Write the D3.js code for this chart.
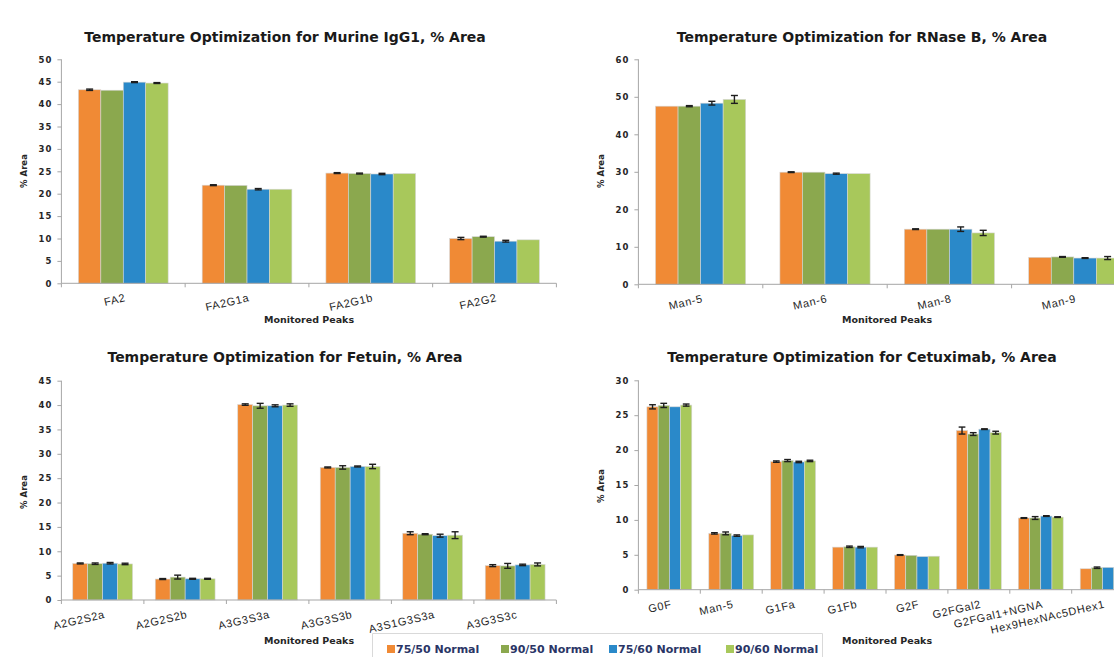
<!DOCTYPE html>
<html><head><meta charset="utf-8">
<script src="https://cdn.jsdelivr.net/npm/d3@7"></script>
<style>
html,body{margin:0;padding:0;background:#fff;overflow:hidden;}
svg{display:block;}
</style></head>
<body>
<svg id="chart" width="1114" height="657"></svg>
<script>
// ---------- DATA ----------
const seriesNames = ["75/50 Normal", "90/50 Normal", "75/60 Normal", "90/60 Normal"];
const seriesColors = ["#F08A35", "#8BA84E", "#2A89C9", "#A8C85B"];

const titles = [
  "Temperature Optimization for Murine IgG1, % Area",
  "Temperature Optimization for RNase B, % Area",
  "Temperature Optimization for Fetuin, % Area",
  "Temperature Optimization for Cetuximab, % Area"
];
const yAxisTitle = "% Area";
const xAxisTitle = "Monitored Peaks";

// Murine IgG1
const igg1Categories = ["FA2", "FA2G1a", "FA2G1b", "FA2G2"];
const igg1_7550 = [43.2, 21.9, 24.6, 10.0];
const igg1_9050 = [43.1, 21.85, 24.5, 10.4];
const igg1_7560 = [44.9, 21.0, 24.4, 9.4];
const igg1_9060 = [44.7, 21.0, 24.5, 9.7];
const igg1Err_7550 = [0.15, 0.1, 0.1, 0.25];
const igg1Err_9050 = [0, 0, 0.1, 0.1];
const igg1Err_7560 = [0.1, 0.15, 0.15, 0.2];
const igg1Err_9060 = [0.1, 0, 0, 0];
const igg1Ticks = [0, 5, 10, 15, 20, 25, 30, 35, 40, 45, 50];

// RNase B
const rnaseCategories = ["Man-5", "Man-6", "Man-8", "Man-9"];
const rnase_7550 = [47.5, 29.9, 14.7, 7.2];
const rnase_9050 = [47.5, 29.9, 14.7, 7.3];
const rnase_7560 = [48.3, 29.5, 14.7, 7.0];
const rnase_9060 = [49.3, 29.5, 13.7, 7.0];
const rnaseErr_7550 = [0, 0.1, 0.1, 0];
const rnaseErr_9050 = [0.15, 0, 0, 0.1];
const rnaseErr_7560 = [0.5, 0.15, 0.6, 0.1];
const rnaseErr_9060 = [1.05, 0, 0.7, 0.4];
const rnaseTicks = [0, 10, 20, 30, 40, 50, 60];

// Fetuin
const fetuinCategories = ["A2G2S2a", "A2G2S2b", "A3G3S3a", "A3G3S3b", "A3S1G3S3a", "A3G3S3c"];
const fetuin_7550 = [7.5, 4.3, 40.1, 27.2, 13.7, 7.05];
const fetuin_9050 = [7.45, 4.7, 39.85, 27.2, 13.5, 7.0];
const fetuin_7560 = [7.55, 4.35, 39.85, 27.4, 13.2, 7.2];
const fetuin_9060 = [7.4, 4.35, 40.0, 27.4, 13.3, 7.3];
const fetuinErr_7550 = [0.1, 0.1, 0.15, 0.1, 0.3, 0.2];
const fetuinErr_9050 = [0.15, 0.4, 0.5, 0.35, 0.1, 0.5];
const fetuinErr_7560 = [0.15, 0.1, 0.2, 0.1, 0.3, 0.15];
const fetuinErr_9060 = [0.15, 0.1, 0.25, 0.45, 0.7, 0.3];
const fetuinTicks = [0, 5, 10, 15, 20, 25, 30, 35, 40, 45];

// Cetuximab
const cetuxCategories = ["G0F", "Man-5", "G1Fa", "G1Fb", "G2F", "G2FGal2", "G2FGal1+NGNA", "Hex9HexNAc5DHex1"];
const cetux_7550 = [26.2, 8.07, 18.35, 6.1, 4.97, 22.8, 10.27, 3.0];
const cetux_9050 = [26.4, 8.07, 18.5, 6.15, 4.93, 22.3, 10.27, 3.15];
const cetux_7560 = [26.2, 7.75, 18.3, 6.1, 4.75, 23.0, 10.55, 3.2];
const cetux_9060 = [26.45, 7.85, 18.45, 6.1, 4.8, 22.5, 10.4, 3.1];
const cetuxErr_7550 = [0.3, 0.1, 0.1, 0, 0.05, 0.5, 0.05, 0];
const cetuxErr_9050 = [0.3, 0.2, 0.15, 0.1, 0, 0.2, 0.2, 0.1];
const cetuxErr_7560 = [0, 0.1, 0.1, 0.1, 0, 0.05, 0.05, 0];
const cetuxErr_9060 = [0.15, 0, 0.1, 0, 0, 0.2, 0.05, 0];
const cetuxTicks = [0, 5, 10, 15, 20, 25, 30];

// ---------- LAYOUT ----------
const panels = [
  { title: titles[0], cats: igg1Categories, vals: [igg1_7550, igg1_9050, igg1_7560, igg1_9060],
    errs: [igg1Err_7550, igg1Err_9050, igg1Err_7560, igg1Err_9060], ticks: igg1Ticks,
    x0: 61.4, bandW: 123.75, yBottom: 283.3, yTop: 59.3, titleX: 285, titleY: 42,
    yTitleX: 27, yTitleY: 171, xTitleX: 309, xTitleY: 323 },
  { title: titles[1], cats: rnaseCategories, vals: [rnase_7550, rnase_9050, rnase_7560, rnase_9060],
    errs: [rnaseErr_7550, rnaseErr_9050, rnaseErr_7560, rnaseErr_9060], ticks: rnaseTicks,
    x0: 638.4, bandW: 124.4, yBottom: 284.3, yTop: 59.3, titleX: 862, titleY: 42,
    yTitleX: 604, yTitleY: 171, xTitleX: 887, xTitleY: 323 },
  { title: titles[2], cats: fetuinCategories, vals: [fetuin_7550, fetuin_9050, fetuin_7560, fetuin_9060],
    errs: [fetuinErr_7550, fetuinErr_9050, fetuinErr_7560, fetuinErr_9060], ticks: fetuinTicks,
    x0: 61.4, bandW: 82.5, yBottom: 600, yTop: 380.7, titleX: 285, titleY: 362,
    yTitleX: 27, yTitleY: 492, xTitleX: 309, xTitleY: 644 },
  { title: titles[3], cats: cetuxCategories, vals: [cetux_7550, cetux_9050, cetux_7560, cetux_9060],
    errs: [cetuxErr_7550, cetuxErr_9050, cetuxErr_7560, cetuxErr_9060], ticks: cetuxTicks,
    x0: 638.4, bandW: 61.9, yBottom: 589.7, yTop: 380.3, titleX: 862, titleY: 362,
    yTitleX: 604, yTitleY: 486, xTitleX: 887, xTitleY: 644 }
];

const svg = d3.select("#chart");
const axisColor = "#a6a6a6";
const textColor = "#262626";

panels.forEach(p => {
  const g = svg.append("g");
  const x1 = p.x0 + p.bandW * p.cats.length;
  const x = d3.scaleBand().domain(p.cats).range([p.x0, x1]).paddingInner(0).paddingOuter(0);
  const xs = d3.scaleBand().domain(seriesNames).range([x.bandwidth() * 0.1375, x.bandwidth() * 0.8625]).padding(0);
  const yMax = p.ticks[p.ticks.length - 1];
  const y = d3.scaleLinear().domain([0, yMax]).range([p.yBottom, p.yTop]);

  // title
  g.append("text").attr("x", p.titleX).attr("y", p.titleY)
    .attr("text-anchor", "middle")
    .style("font-family", "'DejaVu Sans', Verdana, sans-serif")
    .style("font-weight", "bold").style("font-size", "14px").style("fill", "#1a1a1a")
    .text(p.title);

  // bars
  const data = [];
  p.cats.forEach((c, i) => seriesNames.forEach((s, j) => data.push({ c, s, j, v: p.vals[j][i], e: p.errs[j][i] })));
  g.selectAll("rect.bar").data(data).enter().append("rect")
    .attr("class", "bar")
    .attr("x", d => x(d.c) + xs(d.s))
    .attr("width", xs.bandwidth())
    .attr("y", d => y(d.v))
    .attr("height", d => y(0) - y(d.v))
    .attr("fill", d => seriesColors[d.j])
    .attr("stroke", "#d6d6d6").attr("stroke-width", 0.6);

  // error bars
  const eb = g.selectAll("g.err").data(data.filter(d => d.e > 0)).enter().append("g").attr("class", "err")
    .attr("stroke", "#1e1e1e").attr("stroke-width", 1.4);
  const cx = d => x(d.c) + xs(d.s) + xs.bandwidth() / 2;
  const capW = Math.min(3.5, xs.bandwidth() * 0.3);
  eb.append("line").attr("x1", cx).attr("x2", cx).attr("y1", d => y(d.v + d.e)).attr("y2", d => y(d.v - d.e));
  eb.append("line").attr("x1", d => cx(d) - capW).attr("x2", d => cx(d) + capW).attr("y1", d => y(d.v + d.e)).attr("y2", d => y(d.v + d.e));
  eb.append("line").attr("x1", d => cx(d) - capW).attr("x2", d => cx(d) + capW).attr("y1", d => y(d.v - d.e)).attr("y2", d => y(d.v - d.e));

  // y axis
  const yAxis = d3.axisLeft(y).tickValues(p.ticks).tickSize(4).tickPadding(5).tickFormat(d3.format("d"));
  const ya = g.append("g").attr("transform", `translate(${p.x0},0)`).call(yAxis);
  ya.select(".domain").attr("stroke", axisColor).attr("d", `M0,${p.yBottom}V${p.yTop}`);
  ya.selectAll(".tick line").attr("stroke", axisColor);
  ya.selectAll(".tick text").style("font-family", "'DejaVu Sans', Verdana, sans-serif")
    .style("font-size", "8.5px").style("font-weight", "bold").style("letter-spacing", "1px")
    .style("fill", textColor);

  // x axis
  const xa = g.append("g").attr("transform", `translate(0,${p.yBottom})`);
  xa.append("line").attr("x1", p.x0).attr("x2", x1).attr("y1", 0).attr("y2", 0).attr("stroke", axisColor);
  const bounds = p.cats.map(c => x(c)).concat([x1]);
  xa.selectAll("line.tk").data(bounds).enter().append("line").attr("class", "tk")
    .attr("x1", d => d).attr("x2", d => d).attr("y1", 0).attr("y2", 4).attr("stroke", axisColor);
  xa.selectAll("text.cat").data(p.cats).enter().append("text").attr("class", "cat")
    .attr("text-anchor", "end")
    .attr("transform", c => `translate(${x(c) + x.bandwidth() / 2 + 2},14) rotate(-13)`)
    .attr("dy", "0.35em")
    .style("font-family", "'Liberation Sans', Arial, sans-serif")
    .style("font-size", "11px").style("letter-spacing", "0.7px").style("fill", textColor)
    .text(c => c);

  // axis titles
  g.append("text").attr("transform", `translate(${p.yTitleX},${p.yTitleY}) rotate(-90)`)
    .attr("text-anchor", "middle")
    .style("font-family", "'DejaVu Sans', Verdana, sans-serif")
    .style("font-size", "8.5px").style("font-weight", "bold").style("fill", textColor)
    .text(yAxisTitle);
  g.append("text").attr("x", p.xTitleX).attr("y", p.xTitleY).attr("text-anchor", "middle")
    .style("font-family", "'DejaVu Sans', Verdana, sans-serif")
    .style("font-size", "9.5px").style("font-weight", "bold").style("fill", textColor)
    .text(xAxisTitle);
});

// ---------- LEGEND ----------
const legend = svg.append("g");
legend.append("path").attr("d", "M372.5,660V633.5H822.5V660").attr("fill", "#fff").attr("stroke", "#d9d9d9");
const legendX = [387, 501, 609, 726];
const li = legend.selectAll("g.li").data(seriesNames).enter().append("g").attr("class", "li")
  .attr("transform", (d, i) => `translate(${legendX[i]},649)`);
li.append("rect").attr("x", 0).attr("y", -4).attr("width", 8).attr("height", 8).attr("fill", (d, i) => seriesColors[i]);
li.append("text").attr("x", 9).attr("y", 0).attr("dy", "0.36em")
  .style("font-family", "'DejaVu Sans', Verdana, sans-serif").style("font-size", "11px")
  .style("font-weight", "bold")
  .style("fill", "#2a3566").text(d => d);
</script>
</body></html>
